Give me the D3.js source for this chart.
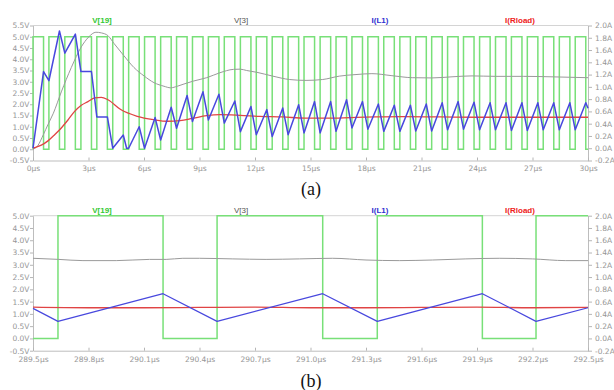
<!DOCTYPE html>
<html><head><meta charset="utf-8">
<script src="https://cdn.jsdelivr.net/npm/d3@7"></script>
<style>body{margin:0;background:#fff}svg{display:block}</style>
</head><body><svg id="c" width="614" height="390"></svg>
<script>
// ---------- data ----------
const traceNames = ["V[19]", "V[3]", "I(L1)", "I(Rload)"];
const vTicksA = [-0.5,0,0.5,1,1.5,2,2.5,3,3.5,4,4.5,5,5.5];
const vTicksB = [-0.5,0,0.5,1,1.5,2,2.5,3,3.5,4,4.5,5];
const aTicks = [-0.2,0,0.2,0.4,0.6,0.8,1.0,1.2,1.4,1.6,1.8,2.0];
const tTicksA = [0,3,6,9,12,15,18,21,24,27,30];
const tTicksB = [289.5,289.8,290.1,290.4,290.7,291.0,291.3,291.6,291.9,292.2,292.5];

// Panel (a): V[19] gate pulse edges (µs), low 0 V / high 5 V
const pwmRiseA = [0,0.86,1.72,2.59,3.45,4.31,5.17,6.03,6.90,7.76,8.62,9.48,10.34,11.21,12.07,12.93,13.79,14.65,15.52,16.38,17.24,18.10,18.96,19.83,20.69,21.55,22.41,23.27,24.14,25.00,25.86,26.72,27.58,28.45,29.31];
const pwmFallA = [0.57,1.43,2.29,3.16,4.02,4.88,5.74,6.60,7.47,8.33,9.19,10.05,10.91,11.78,12.64,13.50,14.36,15.22,16.09,16.95,17.81,18.67,19.53,20.40,21.26,22.12,22.98,23.84,24.71,25.57,26.43,27.29,28.15,29.02,29.88];
const pwmLevels = [0, 5];

// Panel (a): V[3] (V)
const tV3A = [0,0.25,0.56,0.81,1.1,1.53,2.07,2.61,3.0,3.4,3.7,4.05,4.38,4.92,5.46,6.0,6.54,7.08,7.44,7.8,8.16,8.67,9.39,10.1,10.83,11.19,11.55,12.1,12.96,13.86,14.76,15.66,16.56,17.46,18.32,19.4,20.5,21.57,22.65,23.73,25.0,26.5,28.0,29.0,30.0];
const vV3A = [0,0.15,0.65,1.1,1.6,2.55,3.63,4.55,4.98,5.2,5.17,5.05,4.7,4.15,3.63,3.26,2.96,2.8,2.73,2.8,2.9,3.03,3.18,3.4,3.55,3.56,3.5,3.42,3.25,3.1,3.06,3.1,3.25,3.32,3.36,3.27,3.18,3.17,3.22,3.26,3.24,3.24,3.22,3.2,3.18];

// Panel (a): I(L1) (A)
const tIL1A = [0,0.57,0.86,1.43,1.72,2.29,2.59,3.16,3.45,4.02,4.31,4.88,5.06,5.17,5.74,6.03,6.60,6.90,7.47,7.76,8.33,8.62,9.19,9.48,10.05,10.34,10.91,11.21,11.78,12.07,12.64,12.93,13.50,13.79,14.36,14.65,15.22,15.52,16.09,16.38,16.95,17.24,17.81,18.10,18.67,18.96,19.53,19.83,20.40,20.69,21.26,21.55,22.12,22.41,22.98,23.27,23.84,24.14,24.71,25.00,25.57,25.86,26.43,26.72,27.29,27.58,28.15,28.45,29.02,29.31,29.88,30.0];
const aIL1A = [0,1.25,1.10,1.91,1.55,1.86,1.25,1.25,0.51,0.51,0,0.215,0,0,0.35,0,0.50,0.134,0.667,0.325,0.86,0.435,0.92,0.46,0.88,0.41,0.77,0.27,0.68,0.22,0.63,0.19,0.655,0.22,0.71,0.25,0.76,0.25,0.76,0.275,0.79,0.33,0.76,0.31,0.72,0.275,0.70,0.275,0.70,0.28,0.72,0.28,0.74,0.30,0.76,0.31,0.75,0.30,0.74,0.30,0.74,0.29,0.74,0.29,0.74,0.30,0.74,0.30,0.74,0.30,0.74,0.65];

// Panel (a): I(Rload) (A)
const tIRA = [0,0.09,0.45,0.81,1.17,1.53,1.89,2.25,2.61,2.97,3.33,3.69,4.05,4.74,5.64,6.54,7.26,7.95,8.67,9.39,10.1,11.19,12.27,13.5,14.7,15.9,17.2,18.5,20,22,24,26,28,30];
const aIRA = [0,0.01,0.05,0.12,0.22,0.33,0.46,0.60,0.70,0.76,0.82,0.83,0.79,0.63,0.52,0.465,0.44,0.45,0.49,0.53,0.546,0.536,0.52,0.51,0.49,0.49,0.50,0.51,0.515,0.51,0.505,0.505,0.505,0.505];

// Panel (b): V[19] edges (starts low)
const pwmEdgesB = [289.635,290.203,290.495,291.066,291.361,291.929,292.219];

// Panel (b): V[3]
const tV3B = [289.5,289.64,289.77,289.95,290.13,290.22,290.31,290.40,290.58,290.76,290.94,291.12,291.30,291.48,291.66,291.84,292.02,292.2,292.38,292.5];
const vV3B = [3.265,3.22,3.17,3.17,3.22,3.22,3.265,3.265,3.24,3.22,3.24,3.265,3.195,3.17,3.195,3.24,3.265,3.24,3.17,3.17];

// Panel (b): I(L1)
const tIL1B = [289.5,289.635,290.203,290.495,291.066,291.361,291.929,292.219,292.5];
const aIL1B = [0.49,0.278,0.729,0.278,0.729,0.278,0.729,0.278,0.50];

// Panel (b): I(Rload)
const tIRB = [289.5,289.8,290.1,290.4,290.7,291.0,291.3,291.6,291.9,292.2,292.5];
const aIRB = [0.51,0.50,0.50,0.505,0.51,0.50,0.50,0.505,0.51,0.50,0.505];

// ---------- drawing ----------
const svg = d3.select("#c");
const COL = {green:"#78e078", grey:"#9a9a9a", red:"#e04444", blue:"#4848de"};
const labelCol = ["#33c833", "#555555", "#3030d0", "#ee2020"];

function squareFromEdges(edges, startLevel, t0, t1) {
  const pts = [[t0, pwmLevels[startLevel]]];
  let lv = startLevel;
  edges.forEach(e => {
    pts.push([e, pwmLevels[lv]]);
    lv = 1 - lv;
    pts.push([e, pwmLevels[lv]]);
  });
  pts.push([t1, pwmLevels[lv]]);
  return pts;
}

function panel(cfg) {
  const x = d3.scaleLinear().domain(cfg.tDom).range([33, 588]);
  const yV = d3.scaleLinear().domain(cfg.vDom).range([cfg.bottom, cfg.top]);
  const yA = d3.scaleLinear().domain([-0.2, 2.0]).range([cfg.bottom, cfg.top]);
  const g = svg.append("g");

  g.append("line").attr("x1", 33).attr("x2", 588).attr("y1", cfg.top).attr("y2", cfg.top)
    .attr("stroke", "#d4d4d4").attr("stroke-width", 1);

  const axStyle = sel => {
    sel.selectAll("path").attr("stroke", "#bdbdbd");
    sel.selectAll("line").attr("stroke", "#b5b5b5");
    sel.selectAll("text").attr("fill", "#969696").style("font-family", "DejaVu Sans, sans-serif").style("font-size", "7.5px");
  };

  g.append("g").attr("transform", `translate(33,0)`)
    .call(d3.axisLeft(yV).tickValues(cfg.vTicks).tickFormat(d => d.toFixed(1) + "V").tickSizeInner(3).tickSizeOuter(0).tickPadding(0.5))
    .call(axStyle);
  g.append("g").attr("transform", `translate(588,0)`)
    .call(d3.axisRight(yA).tickValues(aTicks).tickFormat(d => d.toFixed(1) + "A").tickSizeInner(4).tickSizeOuter(0).tickPadding(3))
    .call(axStyle);
  g.append("g").attr("transform", `translate(0,${cfg.bottom})`)
    .call(d3.axisBottom(x).tickValues(cfg.tTicks).tickFormat(cfg.tFmt).tickSizeInner(-3).tickSizeOuter(0).tickPadding(5.5))
    .call(axStyle);

  const lineV = d3.line().x(d => x(d[0])).y(d => yV(d[1]));
  const lineA = d3.line().x(d => x(d[0])).y(d => yA(d[1]));
  const smoothV = d3.line().x(d => x(d[0])).y(d => yV(d[1])).curve(d3.curveMonotoneX);
  const smoothA = d3.line().x(d => x(d[0])).y(d => yA(d[1])).curve(d3.curveMonotoneX);

  g.append("path").datum(cfg.pwm).attr("d", lineV).attr("fill", "none")
    .attr("stroke", COL.green).attr("stroke-width", 1.5);
  g.append("path").datum(d3.zip(cfg.tV3, cfg.vV3)).attr("d", smoothV).attr("fill", "none")
    .attr("stroke", COL.grey).attr("stroke-width", 1);
  g.append("path").datum(d3.zip(cfg.tIR, cfg.aIR)).attr("d", smoothA).attr("fill", "none")
    .attr("stroke", COL.red).attr("stroke-width", 1.3);
  g.append("path").datum(d3.zip(cfg.tIL1, cfg.aIL1)).attr("d", lineA).attr("fill", "none")
    .attr("stroke", COL.blue).attr("stroke-width", cfg.blueW).attr("stroke-linejoin", "round");

  const lx = [102, 241, 380, 520];
  traceNames.forEach((n, i) => {
    g.append("text").attr("x", lx[i]).attr("y", cfg.top - 2.5).attr("text-anchor", "middle")
      .attr("fill", labelCol[i]).style("font-family", "Liberation Sans, Arial, sans-serif")
      .style("font-size", "8px").style("font-weight", i === 1 ? "normal" : "bold").text(n);
  });

  svg.append("text").attr("x", 311).attr("y", cfg.capY).attr("text-anchor", "middle")
    .style("font-family", "Liberation Serif, Times New Roman, serif").style("font-size", "18px")
    .attr("fill", "#111").text(cfg.cap);
}

const edgesA = pwmRiseA.concat(pwmFallA).sort((a, b) => a - b);
panel({
  tDom: [0, 30], vDom: [-0.5, 5.5], top: 25.5, bottom: 160.5,
  vTicks: vTicksA, tTicks: tTicksA, tFmt: d => d + "µs",
  pwm: squareFromEdges(edgesA, 0, 0, 30),
  tV3: tV3A, vV3: vV3A, tIR: tIRA, aIR: aIRA, tIL1: tIL1A, aIL1: aIL1A,
  blueW: 1.5, cap: "(a)", capY: 195
});
panel({
  tDom: [289.5, 292.5], vDom: [-0.5, 5.0], top: 215.7, bottom: 350.7,
  vTicks: vTicksB, tTicks: tTicksB, tFmt: d => d.toFixed(1) + "µs",
  pwm: squareFromEdges(pwmEdgesB, 0, 289.5, 292.5),
  tV3: tV3B, vV3: vV3B, tIR: tIRB, aIR: aIRB, tIL1: tIL1B, aIL1: aIL1B,
  blueW: 1.2, cap: "(b)", capY: 387
});
</script></body></html>
